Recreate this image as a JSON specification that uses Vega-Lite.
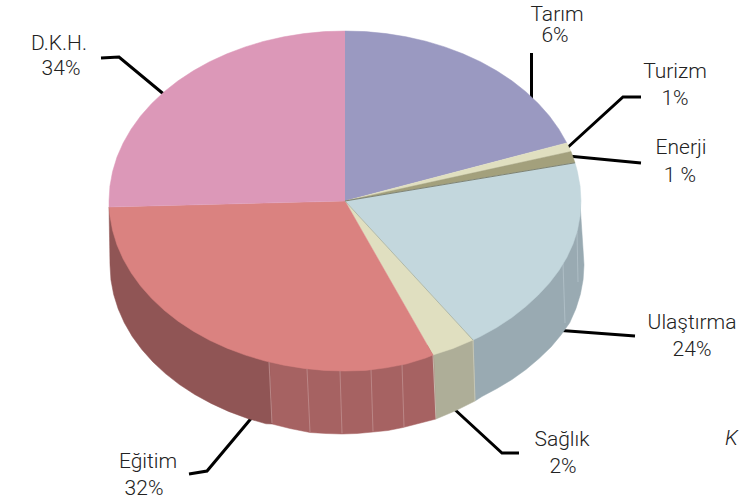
{
"$schema":"https://vega.github.io/schema/vega-lite/v6.json",
"width":739,"height":504,"padding":0,"autosize":"none",
"background":"white",
"config":{"view":{"stroke":null}},
"datasets":{
"leaders":[
{"label":"Tarım","x":531.5,"y":53},{"label":"Tarım","x":531.5,"y":100},
{"label":"Turizm","x":641,"y":97},{"label":"Turizm","x":623,"y":97},{"label":"Turizm","x":566,"y":149},
{"label":"Enerji","x":641,"y":163},{"label":"Enerji","x":568,"y":156},
{"label":"Ulaştırma","x":635,"y":336},{"label":"Ulaştırma","x":555,"y":330},
{"label":"Sağlık","x":519,"y":453},{"label":"Sağlık","x":502,"y":453},{"label":"Sağlık","x":452,"y":407},
{"label":"Eğitim","x":189,"y":474},{"label":"Eğitim","x":207,"y":471},{"label":"Eğitim","x":254,"y":415},
{"label":"D.K.H.","x":101,"y":58},{"label":"D.K.H.","x":119,"y":57},{"label":"D.K.H.","x":172,"y":101}
],
"sides":[
{"part":"ulastirma_side","x":580,"y":203},{"part":"ulastirma_side","x":583.1,"y":250.3},{"part":"ulastirma_side","x":584,"y":265},{"part":"ulastirma_side","x":583.1,"y":279.7},{"part":"ulastirma_side","x":580.4,"y":294.3},{"part":"ulastirma_side","x":575.9,"y":308.7},{"part":"ulastirma_side","x":569.7,"y":322.8},{"part":"ulastirma_side","x":561,"y":335},{"part":"ulastirma_side","x":551,"y":347},{"part":"ulastirma_side","x":539,"y":358.5},{"part":"ulastirma_side","x":526,"y":369.5},{"part":"ulastirma_side","x":512,"y":379.5},{"part":"ulastirma_side","x":497,"y":388.5},{"part":"ulastirma_side","x":482,"y":396.5},{"part":"ulastirma_side","x":475,"y":401},{"part":"ulastirma_side","x":473,"y":330},
{"part":"saglik_side","x":473,"y":330},{"part":"saglik_side","x":475,"y":401},{"part":"saglik_side","x":455,"y":411},{"part":"saglik_side","x":436,"y":419},{"part":"saglik_side","x":433,"y":345},
{"part":"egitim_side_a","x":433,"y":345},{"part":"egitim_side_a","x":436,"y":419},{"part":"egitim_side_a","x":403,"y":427.5},{"part":"egitim_side_a","x":388,"y":430.5},{"part":"egitim_side_a","x":373,"y":432},{"part":"egitim_side_a","x":357,"y":433.5},{"part":"egitim_side_a","x":342,"y":434},{"part":"egitim_side_a","x":326,"y":433.5},{"part":"egitim_side_a","x":310,"y":432.5},{"part":"egitim_side_a","x":290,"y":428.5},{"part":"egitim_side_a","x":272,"y":424},{"part":"egitim_side_a","x":269,"y":350},
{"part":"egitim_side_b","x":269,"y":350},{"part":"egitim_side_b","x":272,"y":424},{"part":"egitim_side_b","x":266,"y":423.8},{"part":"egitim_side_b","x":246.8,"y":418.2},{"part":"egitim_side_b","x":228.5,"y":411.4},{"part":"egitim_side_b","x":211.1,"y":403.4},{"part":"egitim_side_b","x":194.7,"y":394.5},{"part":"egitim_side_b","x":179.4,"y":384.5},{"part":"egitim_side_b","x":165.4,"y":373.6},{"part":"egitim_side_b","x":152.9,"y":361.9},{"part":"egitim_side_b","x":141.8,"y":349.5},{"part":"egitim_side_b","x":132.2,"y":336.4},{"part":"egitim_side_b","x":124.3,"y":322.8},{"part":"egitim_side_b","x":118.1,"y":308.7},{"part":"egitim_side_b","x":113.6,"y":294.3},{"part":"egitim_side_b","x":110.9,"y":279.7},{"part":"egitim_side_b","x":110,"y":265},{"part":"egitim_side_b","x":109,"y":207}
],
"seams":[
{"id":"e1","part":"seam_egitim","x":269,"y":362},{"id":"e1","part":"seam_egitim","x":272,"y":423},
{"id":"e2","part":"seam_egitim","x":307,"y":369},{"id":"e2","part":"seam_egitim","x":310,"y":432},
{"id":"e3","part":"seam_egitim","x":340,"y":371},{"id":"e3","part":"seam_egitim","x":342,"y":433.5},
{"id":"e4","part":"seam_egitim","x":371,"y":369},{"id":"e4","part":"seam_egitim","x":373,"y":431.5},
{"id":"e5","part":"seam_egitim","x":402,"y":364},{"id":"e5","part":"seam_egitim","x":404,"y":427},
{"id":"s1","part":"seam_saglik","x":433,"y":355},{"id":"s1","part":"seam_saglik","x":436,"y":419},
{"id":"s2","part":"seam_saglik","x":473,"y":340},{"id":"s2","part":"seam_saglik","x":475,"y":401},
{"id":"u1","part":"seam_ulastirma","x":563,"y":263},{"id":"u1","part":"seam_ulastirma","x":565,"y":323},
{"id":"u2","part":"seam_ulastirma","x":577,"y":232},{"id":"u2","part":"seam_ulastirma","x":578,"y":282}
],
"tops":[
{"part":"tarim","x":345,"y":201},{"part":"tarim","x":345,"y":31},{"part":"tarim","x":365.6,"y":31.6},{"part":"tarim","x":386.1,"y":33.6},{"part":"tarim","x":406.1,"y":36.8},{"part":"tarim","x":425.7,"y":41.2},{"part":"tarim","x":444.7,"y":46.9},{"part":"tarim","x":463,"y":53.8},{"part":"tarim","x":480.4,"y":61.7},{"part":"tarim","x":496.7,"y":70.8},{"part":"tarim","x":511.9,"y":80.8},{"part":"tarim","x":525.8,"y":91.7},{"part":"tarim","x":538.3,"y":103.5},{"part":"tarim","x":549.4,"y":116},{"part":"tarim","x":558.9,"y":129.2},{"part":"tarim","x":566.8,"y":142.9},
{"part":"turizm","x":345,"y":201},{"part":"turizm","x":566.8,"y":142.9},{"part":"turizm","x":571,"y":151.5},
{"part":"enerji","x":345,"y":201},{"part":"enerji","x":571,"y":151.5},{"part":"enerji","x":575,"y":162.8},
{"part":"ulastirma","x":345,"y":201},{"part":"ulastirma","x":575,"y":162.8},{"part":"ulastirma","x":577.4,"y":171.5},{"part":"ulastirma","x":580.1,"y":186.2},{"part":"ulastirma","x":581,"y":201},{"part":"ulastirma","x":580.1,"y":215.8},{"part":"ulastirma","x":577.4,"y":230.5},{"part":"ulastirma","x":573,"y":244},{"part":"ulastirma","x":566.8,"y":257.5},{"part":"ulastirma","x":558.9,"y":270.5},{"part":"ulastirma","x":549.4,"y":283},{"part":"ulastirma","x":538.3,"y":295},{"part":"ulastirma","x":525.8,"y":306.5},{"part":"ulastirma","x":511.9,"y":317.5},{"part":"ulastirma","x":496.7,"y":327.5},{"part":"ulastirma","x":480.4,"y":336.5},{"part":"ulastirma","x":473,"y":340},
{"part":"saglik","x":345,"y":201},{"part":"saglik","x":473,"y":340},{"part":"saglik","x":453,"y":348.5},{"part":"saglik","x":433,"y":355},
{"part":"egitim","x":345,"y":201},{"part":"egitim","x":433,"y":355},{"part":"egitim","x":425.7,"y":358},{"part":"egitim","x":406.1,"y":364},{"part":"egitim","x":386.1,"y":367.8},{"part":"egitim","x":365.6,"y":370.4},{"part":"egitim","x":345,"y":371},{"part":"egitim","x":324.4,"y":370.4},{"part":"egitim","x":303.9,"y":368.4},{"part":"egitim","x":283.9,"y":365.2},{"part":"egitim","x":264.3,"y":360.8},{"part":"egitim","x":245.3,"y":355.1},{"part":"egitim","x":227,"y":348.2},{"part":"egitim","x":209.6,"y":340.3},{"part":"egitim","x":193.3,"y":331.2},{"part":"egitim","x":178.1,"y":321.2},{"part":"egitim","x":164.2,"y":310.3},{"part":"egitim","x":151.7,"y":298.5},{"part":"egitim","x":140.6,"y":286},{"part":"egitim","x":131.1,"y":272.8},{"part":"egitim","x":123.2,"y":259.1},{"part":"egitim","x":117,"y":245},{"part":"egitim","x":112.6,"y":230.5},{"part":"egitim","x":109.9,"y":215.8},{"part":"egitim","x":109,"y":207},
{"part":"dkh","x":345,"y":201},{"part":"dkh","x":109,"y":207},{"part":"dkh","x":109,"y":201},{"part":"dkh","x":109.9,"y":186.2},{"part":"dkh","x":112.6,"y":171.5},{"part":"dkh","x":117,"y":157},{"part":"dkh","x":123.2,"y":142.9},{"part":"dkh","x":131.1,"y":129.2},{"part":"dkh","x":140.6,"y":116},{"part":"dkh","x":151.7,"y":103.5},{"part":"dkh","x":164.2,"y":91.7},{"part":"dkh","x":178.1,"y":80.8},{"part":"dkh","x":193.3,"y":70.8},{"part":"dkh","x":209.6,"y":61.7},{"part":"dkh","x":227,"y":53.8},{"part":"dkh","x":245.3,"y":46.9},{"part":"dkh","x":264.3,"y":41.2},{"part":"dkh","x":283.9,"y":36.8},{"part":"dkh","x":303.9,"y":33.6},{"part":"dkh","x":324.4,"y":31.6},{"part":"dkh","x":345,"y":31}
],
"edges":[
{"id":"a","part":"edge_dark","x":345,"y":201},{"id":"a","part":"edge_dark","x":575,"y":162.8},
{"id":"b","part":"edge_soft","x":345,"y":201},{"id":"b","part":"edge_soft","x":473,"y":340}
],
"labels":[
{"text":"Tarım","x":557,"y":21},{"text":"6%","x":555,"y":42},
{"text":"Turizm","x":675,"y":78},{"text":"1%","x":675,"y":105},
{"text":"Enerji","x":681,"y":154},{"text":"1 %","x":680,"y":182},
{"text":"Ulaştırma","x":692,"y":329},{"text":"24%","x":692,"y":356},
{"text":"Sağlık","x":562,"y":446},{"text":"2%","x":563,"y":473},
{"text":"Eğitim","x":148,"y":468},{"text":"32%","x":144,"y":495},
{"text":"D.K.H.","x":59,"y":50},{"text":"34%","x":61,"y":75}
]
},
"encoding":{
"x":{"field":"x","type":"quantitative","scale":{"domain":[0,739],"range":[0,739],"nice":false,"zero":false},"axis":null},
"y":{"field":"y","type":"quantitative","scale":{"domain":[0,504],"range":[0,504],"nice":false,"zero":false},"axis":null}
},
"layer":[
{"data":{"name":"leaders"},"transform":[{"window":[{"op":"row_number","as":"i"}]}],"mark":{"type":"line","color":"black","strokeWidth":3,"strokeJoin":"miter"},"encoding":{"detail":{"field":"label"},"order":{"field":"i","type":"quantitative"}}},
{"data":{"name":"sides"},"transform":[{"window":[{"op":"row_number","as":"i"}]}],"mark":{"type":"line","filled":true,"strokeWidth":0.5},"encoding":{
"fill":{"field":"part","legend":null,"scale":{"domain":["ulastirma_side","saglik_side","egitim_side_a","egitim_side_b","tarim","turizm","enerji","ulastirma","saglik","egitim","dkh"],"range":["#99aab2","#aeae98","#a66262","#905555","#9a99c1","#e0dfc0","#a3a07c","#c3d7dd","#e0dfc0","#da8280","#dc98b8"]}},
"stroke":{"field":"part","legend":null,"scale":{"domain":["ulastirma_side","saglik_side","egitim_side_a","egitim_side_b","tarim","turizm","enerji","ulastirma","saglik","egitim","dkh","seam_egitim","seam_saglik","seam_ulastirma","edge_dark","edge_soft"],"range":["#99aab2","#aeae98","#a66262","#905555","#9a99c1","#e0dfc0","#a3a07c","#c3d7dd","#e0dfc0","#da8280","#dc98b8","#c08f8f","#c9cabb","#b4c3ca","#5f5e48","#9aa89e"]}},
"order":{"field":"i","type":"quantitative"}}},
{"data":{"name":"seams"},"transform":[{"window":[{"op":"row_number","as":"i"}]}],"mark":{"type":"line","strokeWidth":0.8},"encoding":{"stroke":{"field":"part","legend":null},"detail":{"field":"id"},"order":{"field":"i","type":"quantitative"}}},
{"data":{"name":"tops"},"transform":[{"window":[{"op":"row_number","as":"i"}]}],"mark":{"type":"line","filled":true,"strokeWidth":0.5},"encoding":{"fill":{"field":"part","legend":null},"stroke":{"field":"part","legend":null},"order":{"field":"i","type":"quantitative"}}},
{"data":{"name":"edges"},"transform":[{"window":[{"op":"row_number","as":"i"}]}],"mark":{"type":"line","strokeWidth":0.7},"encoding":{"stroke":{"field":"part","legend":null},"detail":{"field":"id"},"order":{"field":"i","type":"quantitative"}}},
{"data":{"name":"labels"},"mark":{"type":"text","font":"Roboto","fontWeight":300,"fontSize":21,"align":"center","baseline":"alphabetic","color":"#222222"},"encoding":{"text":{"field":"text"}}},
{"data":{"values":[{"text":"K","x":725,"y":445}]},"mark":{"type":"text","font":"Roboto","fontWeight":300,"fontSize":21,"fontStyle":"italic","align":"left","baseline":"alphabetic","color":"#222222"},"encoding":{"text":{"field":"text"}}}
]
}
